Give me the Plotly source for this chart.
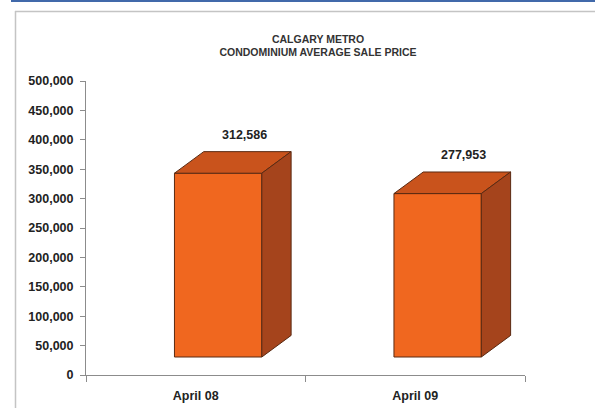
import plotly.graph_objects as go

# ---- data ----
categories = ["April 08", "April 09"]
values = [312586, 277953]
y_ticks = [0, 50000, 100000, 150000, 200000, 250000, 300000, 350000, 400000, 450000, 500000]
title_lines = ["CALGARY METRO", "CONDOMINIUM AVERAGE SALE PRICE"]

# ---- style / geometry (3D look) ----
FLOOR = 30600       # front face floor offset (value units)
DEPTH_X = 0.1335    # depth offset along x (category units)
DEPTH_Y = 36700     # depth offset along y (value units)
BAR_W = 0.398
SHIFT = 0.102
FRONT = "#F0671F"
TOP = "#C9531C"
SIDE = "#A5441C"
EDGE = "#5A2A12"
AXIS = "#8C8C8C"
FONT = "Liberation Sans, Arial, sans-serif"

W, H = 595, 408
L, R, T, B = 86, 70, 81, 33
PW, PH = W - L - R, H - T - B


def px(x):
    return (x - L) / PW


def py(y):
    return (H - B - y) / PH


xs = list(range(len(categories)))

fig = go.Figure()
fig.add_bar(
    x=[i + SHIFT for i in xs], y=values, base=FLOOR, width=BAR_W,
    marker=dict(color=FRONT, line=dict(color=EDGE, width=1)),
    hoverinfo="skip",
)

for i, v in zip(xs, values):
    xl = i + SHIFT - BAR_W / 2
    xr = xl + BAR_W
    top = FLOOR + v
    fig.add_scatter(
        x=[xl, xr, xr + DEPTH_X, xl + DEPTH_X, xl],
        y=[top, top, top + DEPTH_Y, top + DEPTH_Y, top],
        mode="lines", fill="toself", fillcolor=TOP,
        line=dict(color=EDGE, width=1), hoverinfo="skip",
    )
    fig.add_scatter(
        x=[xr, xr + DEPTH_X, xr + DEPTH_X, xr, xr],
        y=[FLOOR, FLOOR + DEPTH_Y, top + DEPTH_Y, top, FLOOR],
        mode="lines", fill="toself", fillcolor=SIDE,
        line=dict(color=EDGE, width=1), hoverinfo="skip",
    )
    fig.add_annotation(
        x=i + 0.22, y=top + DEPTH_Y, text=f"{v:,}", showarrow=False,
        xanchor="center", yanchor="bottom", yshift=8,
        font=dict(family=FONT, size=12.5, color="#222222", weight="bold"),
    )

fig.update_layout(
    width=W, height=H,
    margin=dict(l=L, r=R, t=T, b=B, autoexpand=False),
    paper_bgcolor="white", plot_bgcolor="white",
    showlegend=False,
    title=dict(
        text="<br>".join(title_lines), x=318 / W, xanchor="center",
        y=1 - 42.5 / H, yanchor="middle",
        font=dict(family=FONT, size=10.5, color="#333333", weight="bold"),
    ),
    xaxis=dict(
        range=[-0.5, 1.5], tickvals=xs, ticktext=categories, ticks="",
        showline=True, linecolor=AXIS, linewidth=1, showgrid=False, zeroline=False,
        ticklabelstandoff=9, automargin=False,
        tickfont=dict(family=FONT, size=12.5, color="#222222", weight="bold"),
        minor=dict(tickvals=[-0.5, 0.5, 1.5], ticks="outside", ticklen=6,
                   tickcolor=AXIS, tickwidth=1),
    ),
    yaxis=dict(
        range=[0, 500000], tickvals=y_ticks, tickformat=",",
        ticks="outside", ticklen=5, tickcolor=AXIS, tickwidth=1,
        showline=True, linecolor=AXIS, linewidth=1, showgrid=False, zeroline=False,
        ticklabelstandoff=4, automargin=False,
        tickfont=dict(family=FONT, size=12.5, color="#222222", weight="bold"),
    ),
    shapes=[
        dict(type="line", xref="paper", yref="paper",
             x0=px(11), x1=px(W + 2), y0=py(1), y1=py(1),
             line=dict(color="#4169AA", width=2)),
        dict(type="line", xref="paper", yref="paper",
             x0=px(15), x1=px(W + 2), y0=py(11.5), y1=py(11.5),
             line=dict(color="#C4C4C4", width=1.5)),
        dict(type="line", xref="paper", yref="paper",
             x0=px(15.5), x1=px(15.5), y0=py(11), y1=py(H + 2),
             line=dict(color="#C4C4C4", width=1.5)),
    ],
)

post = (
    "document.documentElement.style.overflow='hidden';"
    "document.body.style.margin='0';"
    "document.body.style.overflow='hidden';"
    "var d=document.getElementById('{plot_id}');"
    "d.style.position='fixed';d.style.top='0px';d.style.left='0px';"
    "window.scrollTo(0,0);"
)

fig.write_html("out.html", config={"displayModeBar": False}, post_script=post)
